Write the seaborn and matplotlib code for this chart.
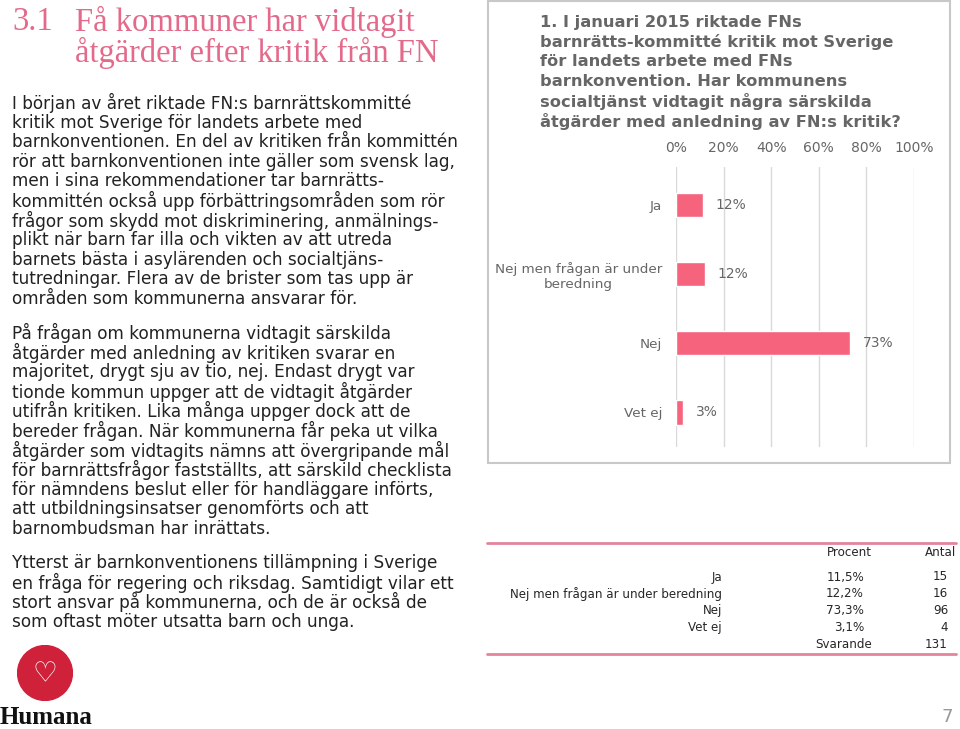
import numpy as np
import pandas as pd
import seaborn as sns
import matplotlib.pyplot as plt
from matplotlib.patches import Rectangle, Circle
from matplotlib.lines import Line2D

# data
categories = ["Ja", "Nej men frågan är under\nberedning", "Nej", "Vet ej"]
table_labels = ["Ja", "Nej men frågan är under beredning", "Nej", "Vet ej"]
percent = [11.5, 12.2, 73.3, 3.1]
counts = [15, 16, 96, 4]
total = 131
xticks = [0, 20, 40, 60, 80, 100]

title_lines = ["Få kommuner har vidtagit", "åtgärder efter kritik från FN"]
chart_title = ["1. I januari 2015 riktade FNs",
               "barnrätts-kommitté kritik mot Sverige",
               "för landets arbete med FNs",
               "barnkonvention. Har kommunens",
               "socialtjänst vidtagit några särskilda",
               "åtgärder med anledning av FN:s kritik?"]
para1 = ["I början av året riktade FN:s barnrättskommitté",
         "kritik mot Sverige för landets arbete med",
         "barnkonventionen. En del av kritiken från kommittén",
         "rör att barnkonventionen inte gäller som svensk lag,",
         "men i sina rekommendationer tar barnrätts-",
         "kommittén också upp förbättringsområden som rör",
         "frågor som skydd mot diskriminering, anmälnings-",
         "plikt när barn far illa och vikten av att utreda",
         "barnets bästa i asylärenden och socialtjäns-",
         "tutredningar. Flera av de brister som tas upp är",
         "områden som kommunerna ansvarar för."]
para2 = ["På frågan om kommunerna vidtagit särskilda",
         "åtgärder med anledning av kritiken svarar en",
         "majoritet, drygt sju av tio, nej. Endast drygt var",
         "tionde kommun uppger att de vidtagit åtgärder",
         "utifrån kritiken. Lika många uppger dock att de",
         "bereder frågan. När kommunerna får peka ut vilka",
         "åtgärder som vidtagits nämns att övergripande mål",
         "för barnrättsfrågor fastställts, att särskild checklista",
         "för nämndens beslut eller för handläggare införts,",
         "att utbildningsinsatser genomförts och att",
         "barnombudsman har inrättats."]
para3 = ["Ytterst är barnkonventionens tillämpning i Sverige",
         "en fråga för regering och riksdag. Samtidigt vilar ett",
         "stort ansvar på kommunerna, och de är också de",
         "som oftast möter utsatta barn och unga."]

sns.set_style("white")
plt.rcParams['font.family'] = ['DejaVu Sans']

W, H = 960, 729
fig = plt.figure(figsize=(9.6, 7.29), dpi=100)


def fx(x):
    return x / W


def fy(y):
    return 1 - y / H


pink = "#E36A8A"
bar_pink = "#F6637D"
gray = "#666666"

# heading
fig.text(fx(12), fy(22), "3.1", family="Liberation Serif", size=23.5, color=pink, va="center")
for i, line in enumerate(title_lines):
    fig.text(fx(75), fy(22 + 31 * i), line, family="Liberation Serif", size=23.5,
             color=pink, va="center")

# body text
for start, lines in [(103, para1), (333, para2), (563, para3)]:
    for i, line in enumerate(lines):
        fig.text(fx(12), fy(start + 19.6 * i), line, size=12.2, color="#222222", va="center")

# chart box
fig.add_artist(Rectangle((fx(488), fy(463)), fx(950 - 488), (463 - 1) / H,
                         transform=fig.transFigure, fill=False, ec="#C8C8C8", lw=1.5))
for i, line in enumerate(chart_title):
    fig.text(fx(540), fy(22 + 20 * i), line, size=11.7, weight="bold", color=gray,
             va="center")

# bar chart
ax = fig.add_axes([fx(676), fy(447), fx(914 - 676), (447 - 167) / H])
df = pd.DataFrame({"kategori": categories, "procent": percent})
sns.barplot(data=df, x="procent", y="kategori", color=bar_pink, width=0.35,
            saturation=1, ax=ax)
ax.set_xlim(0, 100)
ax.set_ylim(3.5, -0.55)
ax.xaxis.tick_top()
ax.set_xticks(xticks)
ax.set_xticklabels([f"{t}%" for t in xticks])
ax.tick_params(axis="x", length=0, pad=9, labelsize=10, labelcolor=gray)
ax.tick_params(axis="y", length=0, pad=10, labelsize=9.7, labelcolor=gray)
for lab in ax.get_yticklabels():
    lab.set_multialignment("center")
ax.grid(axis="x", color="#D9D9D9", lw=1)
ax.set_axisbelow(True)
ax.set_xlabel("")
ax.set_ylabel("")
for s in ax.spines.values():
    s.set_visible(False)
for c in ax.containers:
    ax.bar_label(c, labels=[f"{round(v)}%" for v in percent], padding=9,
                 fontsize=10, color=gray)

# table
fig.add_artist(Line2D([fx(487), fx(956)], [fy(543), fy(543)], color="#E3849B", lw=2))
fig.add_artist(Line2D([fx(487), fx(956)], [fy(654), fy(654)], color="#E3849B", lw=2))
tsize = 8.6
fig.text(fx(872), fy(552), "Procent", size=tsize, ha="right", va="center")
fig.text(fx(956), fy(552), "Antal", size=tsize, ha="right", va="center")
for i, (lab, p, n) in enumerate(zip(table_labels, percent, counts)):
    y = fy(577 + 16.8 * i)
    fig.text(fx(722), y, lab, size=tsize, ha="right", va="center")
    fig.text(fx(864), y, f"{p:.1f}%".replace(".", ","), size=tsize, ha="right", va="center")
    fig.text(fx(948), y, str(n), size=tsize, ha="right", va="center")
fig.text(fx(872), fy(644), "Svarande", size=tsize, ha="right", va="center")
fig.text(fx(948), fy(644), str(total), size=tsize, ha="right", va="center")

# logo
lax = fig.add_axes([fx(17), fy(701), fx(56), 56 / H])
lax.set_aspect("equal")
lax.add_patch(Circle((0.5, 0.5), 0.49, color="#D0213B"))
lax.text(0.5, 0.48, "♡", color="white", ha="center", va="center", size=20,
         family="DejaVu Sans")
lax.set_xlim(0, 1)
lax.set_ylim(0, 1)
lax.axis("off")
fig.text(fx(0), fy(718), "Humana", family="Liberation Serif", weight="bold",
         size=18, color="#111111", va="center")

# page number
fig.text(fx(953), fy(717), "7", size=13, color="#999999", ha="right", va="center")

plt.savefig("out.png", dpi=100)
